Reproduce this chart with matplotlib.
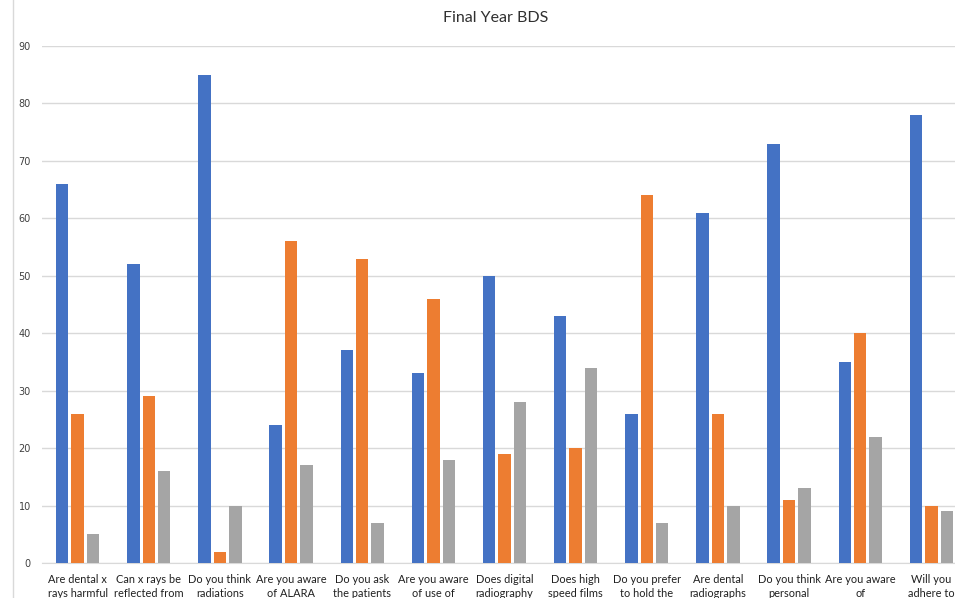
import numpy as np
import matplotlib.pyplot as plt

questions = [
    'Are dental x\nrays harmful', 'Can x rays be\nreflected from', 'Do you think\nradiations',
    'Are you aware\nof ALARA', 'Do you ask\nthe patients', 'Are you aware\nof use of',
    'Does digital\nradiography', 'Does high\nspeed films', 'Do you prefer\nto hold the',
    'Are dental\nradiographs', 'Do you think\npersonal', 'Are you aware\nof',
    'Will you\nadhere to',
]
yes = [66, 52, 85, 24, 37, 33, 50, 43, 26, 61, 73, 35, 78]
no = [26, 29, 2, 56, 53, 46, 19, 20, 64, 26, 11, 40, 10]
dont_know = [5, 16, 10, 17, 7, 18, 28, 34, 7, 10, 13, 22, 9]

colors = ['#4472C4', '#ED7D31', '#A5A5A5']

fig = plt.figure(figsize=(9.55, 5.98), dpi=100)
# plot area runs past the right edge of the image
ax = fig.add_axes([42 / 955, 35 / 598, 925 / 955, 517 / 598])

x = np.arange(len(questions))
step = 0.217
width = 0.175
for i, (vals, c) in enumerate(zip([yes, no, dont_know], colors)):
    ax.bar(x + (i - 1) * step, vals, width, color=c, zorder=3)

ax.set_xlim(-0.5, len(questions) - 0.5)
ax.set_ylim(0, 90)
ax.set_yticks(range(0, 91, 10))
ax.yaxis.grid(True, color='#d9d9d9', linewidth=1, zorder=0)
for s in ['top', 'right', 'left']:
    ax.spines[s].set_visible(False)
ax.spines['bottom'].set_color('#d9d9d9')
ax.tick_params(axis='y', length=0, labelsize=7, labelcolor='#404040', pad=8)
ax.tick_params(axis='x', length=0, pad=8)
ax.set_xticks(x)
ax.set_xticklabels(questions, fontsize=7.9, family='Lato', linespacing=1.35, color='#202020')

fig.text(496 / 955, 1 - 18 / 598, 'Final Year BDS', ha='center', va='center',
         fontsize=11.5, family='Lato', color='#303030')

# outer chart border on the left
fig.add_artist(plt.Line2D([13 / 955, 13 / 955], [0, 1], color='#d9d9d9', linewidth=1))

fig.savefig('out.png', dpi=100)
